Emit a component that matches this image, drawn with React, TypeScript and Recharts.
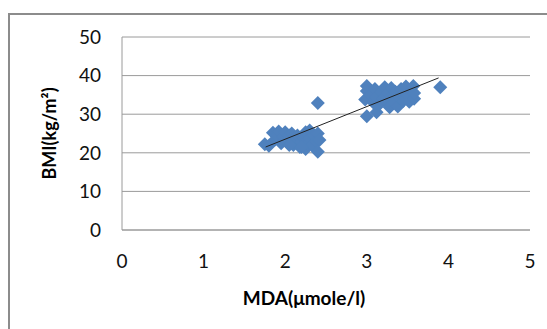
import React from "react";
import { ScatterChart, Scatter, XAxis, YAxis, CartesianGrid, Label } from "recharts";

const lowMda = [1.75, 1.8, 1.85, 1.88, 1.9, 1.92, 1.95, 1.98, 2.0, 2.02, 2.05, 2.08, 2.1, 2.12, 2.15, 2.18, 2.2, 2.22, 2.25, 2.25, 2.28, 2.3, 2.3, 2.33, 2.35, 2.38, 2.4, 2.42, 2.4, 2.4, 2.2, 2.05];
const lowBmi = [22.2, 21.8, 25.2, 23.5, 24.5, 25.5, 22.5, 24.0, 25.3, 23.0, 24.5, 25.0, 22.0, 23.5, 24.5, 21.5, 22.8, 24.0, 25.3, 21.0, 22.5, 23.8, 25.8, 22.0, 24.5, 23.0, 25.0, 23.3, 20.3, 32.9, 21.5, 22.0];
const highMda = [3.0, 3.0, 2.98, 3.0, 3.05, 3.08, 3.1, 3.12, 3.12, 3.15, 3.18, 3.2, 3.22, 3.25, 3.25, 3.28, 3.3, 3.3, 3.33, 3.35, 3.38, 3.4, 3.42, 3.45, 3.48, 3.5, 3.52, 3.55, 3.57, 3.58, 3.58, 3.9];
const highBmi = [37.3, 36.0, 33.8, 29.5, 35.0, 33.0, 36.5, 30.5, 34.5, 32.5, 35.8, 34.0, 37.0, 33.0, 35.5, 31.8, 36.8, 34.5, 33.0, 35.8, 32.0, 34.2, 36.5, 33.5, 37.2, 35.0, 33.2, 36.0, 37.3, 34.0, 35.5, 37.0];
const trendMda = [1.76, 3.88];
const trendBmi = [21.5, 39.4];
const xTicks = [0, 1, 2, 3, 4, 5];
const yTicks = [0, 10, 20, 30, 40, 50];

const points = [
  ...lowMda.map((x, i) => ({ x, y: lowBmi[i] })),
  ...highMda.map((x, i) => ({ x, y: highBmi[i] })),
];
const trend = trendMda.map((x, i) => ({ x, y: trendBmi[i] }));

const Diamond = (props: any) => {
  const { cx, cy } = props;
  const r = 7;
  return (
    <polygon
      points={`${cx},${cy - r} ${cx + r},${cy} ${cx},${cy + r} ${cx - r},${cy}`}
      fill="#4F81BD"
    />
  );
};

const font = "Lato, 'Open Sans', sans-serif";

export default function App() {
  return (
    <div style={{ position: "absolute", left: 0, top: 0, width: 547, height: 329, background: "#fff", overflow: "hidden" }}>
      <div
        style={{
          position: "absolute",
          left: 8,
          top: 13,
          width: 560,
          height: 340,
          border: "2px solid #8c8c8c",
          boxSizing: "border-box",
        }}
      />
      <div style={{ position: "absolute", left: 0, top: 0 }}>
        <ScatterChart width={547} height={329} margin={{ top: 37, right: 17, left: 62, bottom: 19 }}>
          <CartesianGrid horizontal vertical={false} stroke="#9a9a9a" strokeWidth={1} />
          <XAxis
            type="number"
            dataKey="x"
            domain={[0, 5]}
            ticks={xTicks}
            height={80}
            tickLine={false}
            axisLine={{ stroke: "#9a9a9a" }}
            tickSize={0}
            tickMargin={25}
            tick={{ fill: "#111", fontSize: 19, fontFamily: font }}
          >
            <Label
              value="MDA(μmole/l)"
              position="insideBottom"
              offset={5}
              dx={-22}
              style={{ fill: "#000", fontSize: 19, fontWeight: 700, fontFamily: font }}
            />
          </XAxis>
          <YAxis
            type="number"
            dataKey="y"
            domain={[0, 50]}
            ticks={yTicks}
            width={60}
            tickLine={false}
            axisLine={{ stroke: "#9a9a9a" }}
            tickSize={0}
            tickMargin={21}
            tick={{ fill: "#111", fontSize: 19, fontFamily: font }}
          >
            <Label
              value="BMI(kg/m²)"
              angle={-90}
              position="insideLeft"
              offset={-12}
              style={{ fill: "#000", fontSize: 18, fontWeight: 700, fontFamily: font, textAnchor: "middle" }}
            />
          </YAxis>
          <Scatter data={points} shape={<Diamond />} isAnimationActive={false} />
          <Scatter
            data={trend}
            line={{ stroke: "#222", strokeWidth: 1 }}
            shape={() => null}
            isAnimationActive={false}
          />
        </ScatterChart>
      </div>
    </div>
  );
}
